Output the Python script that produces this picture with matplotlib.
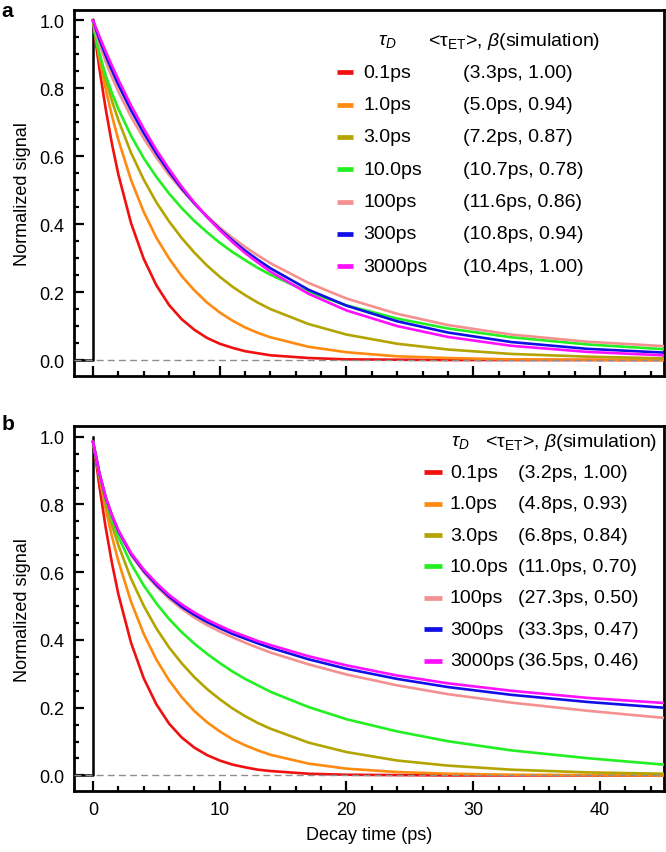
import matplotlib
matplotlib.use("Agg")
import matplotlib.pyplot as plt
from matplotlib.ticker import MultipleLocator

plt.rcParams['font.family'] = ['Liberation Sans', 'DejaVu Sans']
plt.rcParams['mathtext.fontset'] = 'custom'
plt.rcParams['mathtext.rm'] = 'Liberation Sans'
plt.rcParams['mathtext.it'] = 'Liberation Sans:italic'

# decay time axis (ps)
t = [0, 0.25, 0.5, 1, 1.5, 2, 3, 4, 5, 6, 7, 8, 9, 10, 11, 12, 13, 14,
     17, 20, 24, 28, 33, 39, 45]

tau_d = ['0.1ps', '1.0ps', '3.0ps', '10.0ps', '100ps', '300ps', '3000ps']
colors = ['#f01010', '#ff8a10', '#b3a400', '#22f022', '#f59090', '#1010e6', '#ff10ff']

fits_a = ['(3.3ps, 1.00)', '(5.0ps, 0.94)', '(7.2ps, 0.87)', '(10.7ps, 0.78)',
          '(11.6ps, 0.86)', '(10.8ps, 0.94)', '(10.4ps, 1.00)']
fits_b = ['(3.2ps, 1.00)', '(4.8ps, 0.93)', '(6.8ps, 0.84)', '(11.0ps, 0.70)',
          '(27.3ps, 0.50)', '(33.3ps, 0.47)', '(36.5ps, 0.46)']

# panel a
a_red = [1.000, 0.927, 0.859, 0.739, 0.635, 0.546, 0.403, 0.298, 0.220, 0.162,
         0.120, 0.089, 0.065, 0.048, 0.036, 0.026, 0.020, 0.014,
         0.006, 0.002, 0.001, 0.000, 0.000, 0.000, 0.000]
a_orange = [1.000, 0.940, 0.889, 0.798, 0.718, 0.648, 0.530, 0.436, 0.360, 0.299,
            0.247, 0.205, 0.169, 0.140, 0.116, 0.096, 0.080, 0.067,
            0.039, 0.023, 0.011, 0.006, 0.002, 0.001, 0.000]
a_olive = [1.000, 0.945, 0.901, 0.826, 0.762, 0.706, 0.610, 0.531, 0.464, 0.408,
           0.359, 0.316, 0.278, 0.245, 0.216, 0.191, 0.169, 0.150,
           0.106, 0.075, 0.048, 0.031, 0.018, 0.010, 0.005]
a_green = [1.000, 0.942, 0.902, 0.838, 0.785, 0.739, 0.660, 0.594, 0.539, 0.490,
           0.447, 0.409, 0.376, 0.345, 0.318, 0.294, 0.271, 0.251,
           0.200, 0.161, 0.122, 0.093, 0.067, 0.046, 0.032]
a_pink = [1.000, 0.961, 0.931, 0.878, 0.832, 0.790, 0.716, 0.652, 0.596, 0.545,
          0.501, 0.460, 0.424, 0.390, 0.360, 0.333, 0.308, 0.285,
          0.227, 0.181, 0.136, 0.103, 0.075, 0.054, 0.041]
a_blue = [1.000, 0.971, 0.944, 0.896, 0.852, 0.810, 0.735, 0.668, 0.608, 0.554,
          0.505, 0.461, 0.421, 0.385, 0.352, 0.322, 0.295, 0.270,
          0.207, 0.160, 0.114, 0.081, 0.053, 0.033, 0.022]
a_magenta = [1.000, 0.976, 0.953, 0.908, 0.866, 0.825, 0.749, 0.681, 0.618, 0.562,
             0.510, 0.463, 0.421, 0.382, 0.347, 0.315, 0.287, 0.260,
             0.195, 0.146, 0.100, 0.068, 0.042, 0.024, 0.014]

# panel b
b_red = [0.985, 0.925, 0.855, 0.732, 0.626, 0.535, 0.392, 0.287, 0.210, 0.153,
         0.112, 0.082, 0.060, 0.044, 0.032, 0.024, 0.017, 0.013,
         0.005, 0.002, 0.001, 0.000, 0.000, 0.000, 0.000]
b_orange = [0.985, 0.936, 0.882, 0.787, 0.705, 0.633, 0.513, 0.418, 0.342, 0.281,
            0.231, 0.190, 0.157, 0.130, 0.107, 0.089, 0.074, 0.061,
            0.035, 0.020, 0.010, 0.005, 0.002, 0.001, 0.000]
b_olive = [0.985, 0.936, 0.887, 0.806, 0.738, 0.680, 0.581, 0.501, 0.434, 0.378,
           0.331, 0.290, 0.255, 0.225, 0.198, 0.175, 0.155, 0.138,
           0.097, 0.069, 0.044, 0.029, 0.017, 0.009, 0.005]
b_green = [0.985, 0.938, 0.890, 0.815, 0.755, 0.705, 0.625, 0.561, 0.508, 0.462,
           0.423, 0.389, 0.359, 0.332, 0.307, 0.285, 0.266, 0.247,
           0.202, 0.166, 0.130, 0.101, 0.074, 0.051, 0.032]
b_pink = [0.985, 0.940, 0.892, 0.820, 0.765, 0.720, 0.651, 0.600, 0.558, 0.522,
          0.492, 0.466, 0.444, 0.425, 0.408, 0.392, 0.377, 0.363,
          0.328, 0.298, 0.266, 0.240, 0.215, 0.191, 0.170]
b_blue = [0.985, 0.940, 0.893, 0.821, 0.767, 0.722, 0.654, 0.604, 0.563, 0.528,
          0.498, 0.474, 0.453, 0.435, 0.418, 0.404, 0.390, 0.377,
          0.343, 0.315, 0.285, 0.261, 0.238, 0.217, 0.200]
b_magenta = [0.985, 0.940, 0.893, 0.822, 0.768, 0.724, 0.657, 0.608, 0.568, 0.533,
             0.505, 0.481, 0.460, 0.442, 0.425, 0.411, 0.397, 0.385,
             0.352, 0.325, 0.295, 0.272, 0.250, 0.229, 0.214]

# excitation step drawn in black
pump_t = [-1.5, 0, 0]
pump_y = [0, 0, 1]

curves_a = [a_red, a_orange, a_olive, a_green, a_pink, a_blue, a_magenta]
curves_b = [b_red, b_orange, b_olive, b_green, b_pink, b_blue, b_magenta]

FS = 13
LEG_FS = 14

fig = plt.figure(figsize=(6.66, 8.53), dpi=100)
ax_a = fig.add_axes([0.1111, 0.5584, 0.8859, 0.4291])
ax_b = fig.add_axes([0.1111, 0.0715, 0.8859, 0.4276])


def draw_panel(ax, curves, fits, hdr_y, tau_x, fit_hdr_x, h0, h1, lab_x, fit_x, row0, dy):
    ax.plot(pump_t, pump_y, color='k', lw=1.8, zorder=3)
    for c, y in zip(colors, curves):
        ax.plot(t, y, color=c, lw=1.9, zorder=4, solid_joinstyle='round')
    ax.axhline(0, color='#8f8f8f', lw=1.0, ls=(0, (5, 3)), zorder=6)

    ax.set_xlim(-1.5, 45.05)
    ax.set_ylim(-0.046, 1.031)
    ax.xaxis.set_major_locator(MultipleLocator(10))
    ax.xaxis.set_minor_locator(MultipleLocator(2))
    ax.yaxis.set_major_locator(MultipleLocator(0.2))
    ax.yaxis.set_minor_locator(MultipleLocator(0.05))
    ax.tick_params(which='both', direction='in', top=False, right=False,
                   width=1.6, labelsize=FS)
    ax.tick_params(which='major', length=7, pad=7)
    ax.tick_params(which='minor', length=3.5)
    for s in ax.spines.values():
        s.set_linewidth(2.0)
    ax.set_ylabel('Normalized signal', fontsize=FS, labelpad=6)

    # hand-placed legend
    tr = ax.transAxes
    ax.text(tau_x, hdr_y, r'$\tau_D$', transform=tr, ha='center', va='center', fontsize=LEG_FS)
    ax.text(fit_hdr_x, hdr_y, r'<$\mathrm{\tau}_{\mathrm{ET}}$>, $\beta$(simulation)',
            transform=tr, ha='left', va='center', fontsize=LEG_FS)
    for i, (c, name, fit) in enumerate(zip(colors, tau_d, fits)):
        y = row0 - i * dy
        ax.plot([h0, h1], [y, y], color=c, lw=3.4, transform=tr, solid_capstyle='butt')
        ax.text(lab_x, y, name, transform=tr, ha='left', va='center', fontsize=LEG_FS)
        ax.text(fit_x, y, fit, transform=tr, ha='left', va='center', fontsize=LEG_FS)


draw_panel(ax_a, curves_a, fits_a, 0.915, 0.531, 0.600, 0.446, 0.473, 0.490, 0.659, 0.829, 0.0883)
draw_panel(ax_b, curves_b, fits_b, 0.958, 0.654, 0.697, 0.593, 0.624, 0.637, 0.753, 0.874, 0.0861)

ax_a.tick_params(labelbottom=False)
ax_b.set_xlabel('Decay time (ps)', fontsize=FS, labelpad=6)

fig.text(0.002, 0.998, 'a', fontsize=15, fontweight='bold', va='top', ha='left')
fig.text(0.002, 0.513, 'b', fontsize=15, fontweight='bold', va='top', ha='left')

fig.savefig('out.png', dpi=100)
